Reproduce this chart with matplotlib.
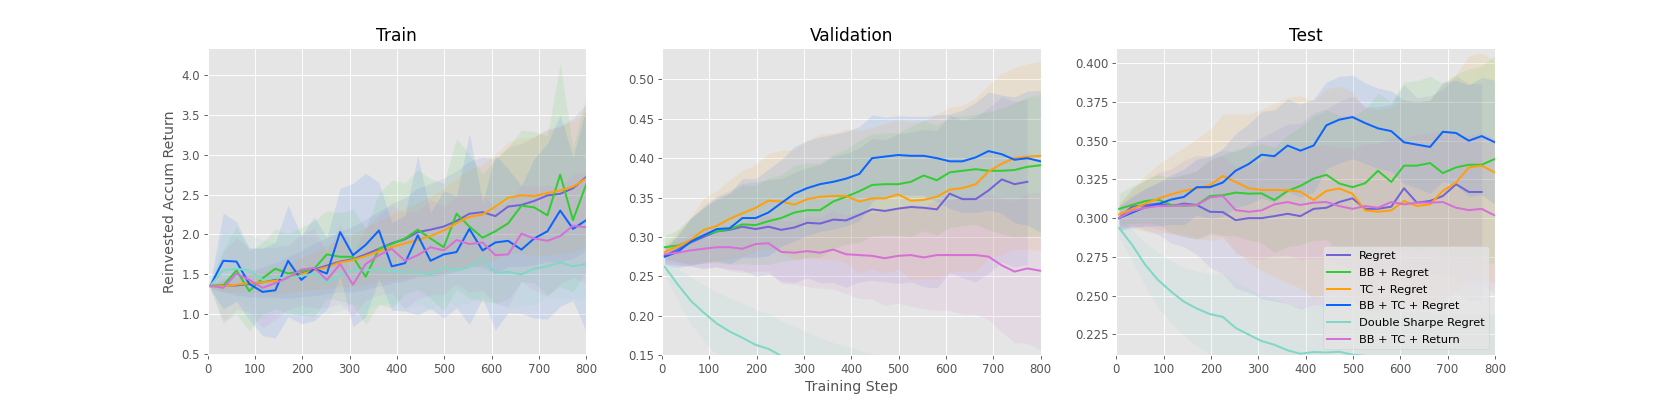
import matplotlib
matplotlib.use("Agg")
import matplotlib.pyplot as plt

plt.style.use("ggplot")
plt.rcParams["font.size"] = 10.6

steps = [6, 33, 61, 88, 116, 143, 170, 198, 225, 252, 280, 307, 334, 362, 389,
         417, 444, 471, 499, 526, 553, 581, 608, 635, 663, 690, 718, 745, 772, 800]

labels = ["Regret", "BB + Regret", "TC + Regret", "BB + TC + Regret",
          "Double Sharpe Regret", "BB + TC + Return"]
colors = ["#7264d6", "#32cd32", "#ffa00a", "#0a64ff", "#7fd8c6", "#d670d6"]

# ---- Train ----
train_regret = [1.35, 1.36, 1.36, 1.38, 1.40, 1.43, 1.46, 1.51, 1.56, 1.61, 1.66, 1.69, 1.75, 1.82, 1.89,
                1.94, 2.03, 2.06, 2.10, 2.17, 2.26, 2.28, 2.23, 2.35, 2.37, 2.42, 2.49, 2.51, 2.58, 2.72]
train_bb = [1.36, 1.36, 1.55, 1.29, 1.45, 1.57, 1.51, 1.54, 1.57, 1.75, 1.72, 1.72, 1.47, 1.82, 1.88,
            1.95, 2.06, 1.95, 1.84, 2.26, 2.10, 1.96, 2.04, 2.14, 2.36, 2.34, 2.24, 2.75, 2.18, 2.63]
train_tc = [1.35, 1.35, 1.37, 1.39, 1.40, 1.42, 1.45, 1.50, 1.55, 1.59, 1.65, 1.68, 1.73, 1.79, 1.84,
            1.89, 1.93, 1.98, 2.05, 2.14, 2.22, 2.25, 2.35, 2.46, 2.49, 2.48, 2.52, 2.55, 2.60, 2.70]
train_bbtc = [1.36, 1.67, 1.66, 1.38, 1.28, 1.30, 1.67, 1.43, 1.57, 1.51, 2.03, 1.74, 1.87, 2.05, 1.60,
              1.64, 1.99, 1.67, 1.75, 1.78, 2.07, 1.80, 1.90, 1.92, 1.81, 1.95, 2.04, 2.30, 2.07, 2.18]
train_dsr = [1.36, 1.55, 1.57, 1.55, 1.43, 1.46, 1.45, 1.48, 1.51, 1.40, 1.49, 1.55, 1.55, 1.57, 1.54,
             1.53, 1.53, 1.50, 1.59, 1.55, 1.59, 1.70, 1.52, 1.53, 1.50, 1.57, 1.60, 1.65, 1.60, 1.63]
train_ret = [1.36, 1.33, 1.51, 1.43, 1.33, 1.39, 1.46, 1.56, 1.58, 1.43, 1.63, 1.37, 1.63, 1.74, 1.82,
             1.67, 1.74, 1.84, 1.80, 1.93, 1.88, 1.90, 1.74, 1.75, 2.01, 1.95, 1.92, 1.98, 2.11, 2.09]

train_regret_sd = [0.02, 0.08, 0.12, 0.16, 0.19, 0.22, 0.26, 0.29, 0.33, 0.35, 0.38, 0.41, 0.44, 0.47, 0.50,
                   0.52, 0.55, 0.58, 0.61, 0.63, 0.66, 0.69, 0.72, 0.75, 0.77, 0.80, 0.83, 0.85, 0.88, 0.92]
train_bb_sd = [0.05, 0.45, 0.55, 0.50, 0.45, 0.50, 0.50, 0.55, 0.60, 0.55, 0.55, 0.60, 0.60, 0.70, 0.80,
               0.70, 0.75, 0.75, 0.80, 0.95, 0.90, 0.80, 0.90, 0.95, 0.95, 0.95, 1.00, 1.40, 0.90, 1.10]
train_tc_sd = [0.02, 0.06, 0.09, 0.11, 0.13, 0.16, 0.18, 0.21, 0.24, 0.27, 0.30, 0.33, 0.36, 0.38, 0.41,
               0.44, 0.47, 0.50, 0.53, 0.56, 0.60, 0.63, 0.66, 0.70, 0.72, 0.75, 0.78, 0.80, 0.82, 0.86]
train_bbtc_sd = [0.05, 0.60, 0.50, 0.45, 0.55, 0.60, 0.70, 0.55, 0.65, 0.45, 0.55, 0.90, 0.90, 0.60, 0.55,
                 0.60, 1.00, 0.60, 0.80, 0.70, 1.20, 0.60, 1.10, 0.90, 0.80, 1.00, 1.10, 1.20, 0.90, 1.40]
train_dsr_sd = [0.03, 0.50, 0.40, 0.45, 0.50, 0.45, 0.40, 0.50, 0.45, 0.40, 0.45, 0.40, 0.50, 0.45, 0.40,
                0.45, 0.40, 0.45, 0.40, 0.45, 0.45, 0.45, 0.40, 0.45, 0.40, 0.45, 0.40, 0.45, 0.40, 0.45]
train_ret_sd = [0.03, 0.45, 0.45, 0.40, 0.50, 0.45, 0.40, 0.45, 0.50, 0.35, 0.50, 0.40, 0.45, 0.50, 0.55,
                0.60, 0.55, 0.60, 0.55, 0.55, 0.60, 0.60, 0.60, 0.65, 0.60, 0.65, 0.70, 0.60, 0.65, 0.70]

# ---- Validation ----
val_regret = [0.276, 0.284, 0.293, 0.300, 0.307, 0.309, 0.313, 0.310, 0.313, 0.309, 0.312, 0.318, 0.317, 0.322, 0.321,
              0.328, 0.335, 0.333, 0.336, 0.338, 0.337, 0.335, 0.355, 0.348, 0.348, 0.359, 0.373, 0.367, 0.370]
val_bb = [0.287, 0.289, 0.295, 0.302, 0.307, 0.310, 0.316, 0.315, 0.320, 0.324, 0.331, 0.334, 0.334, 0.345, 0.351,
          0.358, 0.366, 0.367, 0.367, 0.370, 0.378, 0.372, 0.382, 0.384, 0.386, 0.384, 0.384, 0.385, 0.389, 0.391]
val_tc = [0.281, 0.288, 0.296, 0.309, 0.314, 0.323, 0.330, 0.337, 0.346, 0.345, 0.341, 0.348, 0.351, 0.352, 0.352,
          0.345, 0.349, 0.349, 0.354, 0.346, 0.347, 0.351, 0.360, 0.362, 0.367, 0.383, 0.393, 0.400, 0.402, 0.403]
val_bbtc = [0.275, 0.281, 0.294, 0.302, 0.310, 0.311, 0.324, 0.324, 0.331, 0.343, 0.355, 0.362, 0.367, 0.370, 0.374,
            0.380, 0.400, 0.402, 0.404, 0.403, 0.403, 0.400, 0.396, 0.396, 0.401, 0.409, 0.405, 0.398, 0.400, 0.396]
val_dsr = [0.262, 0.240, 0.219, 0.204, 0.190, 0.180, 0.172, 0.163, 0.158, 0.149, 0.141, 0.134, 0.127, 0.121, 0.116,
           0.111, 0.107, 0.103, 0.100, 0.097, 0.094, 0.092, 0.090, 0.088, 0.086, 0.085, 0.084, 0.083, 0.082, 0.081]
val_ret = [0.278, 0.280, 0.283, 0.285, 0.287, 0.287, 0.285, 0.291, 0.292, 0.281, 0.280, 0.282, 0.280, 0.284, 0.278,
           0.277, 0.276, 0.273, 0.276, 0.277, 0.274, 0.277, 0.277, 0.277, 0.277, 0.275, 0.264, 0.256, 0.260, 0.257]

val_regret_sd = [0.010, 0.020, 0.030, 0.040, 0.045, 0.050, 0.055, 0.060, 0.060, 0.065, 0.070, 0.070, 0.075, 0.080, 0.085,
                 0.085, 0.090, 0.090, 0.095, 0.095, 0.100, 0.100, 0.100, 0.100, 0.105, 0.105, 0.105, 0.105, 0.105]
val_bb_sd = [0.015, 0.020, 0.030, 0.035, 0.040, 0.045, 0.050, 0.050, 0.055, 0.055, 0.060, 0.060, 0.060, 0.060, 0.060,
             0.065, 0.065, 0.065, 0.065, 0.070, 0.070, 0.070, 0.070, 0.070, 0.070, 0.075, 0.080, 0.085, 0.088, 0.090]
val_tc_sd = [0.010, 0.020, 0.030, 0.040, 0.045, 0.050, 0.055, 0.055, 0.060, 0.065, 0.070, 0.075, 0.080, 0.080, 0.085,
             0.090, 0.090, 0.095, 0.095, 0.100, 0.100, 0.105, 0.105, 0.105, 0.110, 0.110, 0.115, 0.115, 0.118, 0.120]
val_bbtc_sd = [0.010, 0.020, 0.030, 0.035, 0.040, 0.045, 0.050, 0.050, 0.055, 0.055, 0.060, 0.060, 0.060, 0.060, 0.060,
               0.060, 0.055, 0.050, 0.050, 0.050, 0.050, 0.055, 0.060, 0.065, 0.070, 0.075, 0.075, 0.080, 0.085, 0.090]
val_dsr_sd = [0.010, 0.020, 0.030, 0.035, 0.040, 0.042, 0.045, 0.045, 0.045, 0.045, 0.045, 0.045, 0.045, 0.045, 0.045,
              0.045, 0.045, 0.045, 0.045, 0.045, 0.045, 0.045, 0.045, 0.045, 0.045, 0.045, 0.045, 0.045, 0.045, 0.045]
val_ret_sd = [0.010, 0.015, 0.020, 0.025, 0.025, 0.030, 0.030, 0.035, 0.035, 0.040, 0.040, 0.045, 0.045, 0.050, 0.050,
              0.055, 0.055, 0.060, 0.060, 0.065, 0.065, 0.070, 0.070, 0.075, 0.075, 0.080, 0.085, 0.090, 0.095, 0.100]

# ---- Test ----
test_regret = [0.3000, 0.3074, 0.3083, 0.3094, 0.3078, 0.3094, 0.3085, 0.3041, 0.3039, 0.2987, 0.3000, 0.3000, 0.3013, 0.3028, 0.3013,
               0.3060, 0.3067, 0.3104, 0.3128, 0.3060, 0.3060, 0.3074, 0.3193, 0.3100, 0.3111, 0.3143, 0.3219, 0.3169, 0.3169]
test_bb = [0.3060, 0.3085, 0.3110, 0.3120, 0.3085, 0.3080, 0.3085, 0.3143, 0.3148, 0.3165, 0.3158, 0.3160, 0.3117, 0.3176, 0.3208,
           0.3256, 0.3280, 0.3224, 0.3200, 0.3226, 0.3306, 0.3234, 0.3339, 0.3339, 0.3356, 0.3291, 0.3328, 0.3345, 0.3345, 0.3382]
test_tc = [0.3024, 0.3057, 0.3094, 0.3126, 0.3154, 0.3176, 0.3193, 0.3213, 0.3273, 0.3234, 0.3193, 0.3182, 0.3182, 0.3180, 0.3171,
           0.3117, 0.3176, 0.3191, 0.3158, 0.3050, 0.3041, 0.3050, 0.3111, 0.3078, 0.3089, 0.3176, 0.3230, 0.3328, 0.3339, 0.3295]
test_bbtc = [0.3000, 0.3035, 0.3070, 0.3090, 0.3120, 0.3137, 0.3200, 0.3200, 0.3230, 0.3306, 0.3350, 0.3410, 0.3400, 0.3469, 0.3436,
             0.3469, 0.3600, 0.3636, 0.3653, 0.3614, 0.3580, 0.3562, 0.3490, 0.3475, 0.3460, 0.3558, 0.3550, 0.3500, 0.3530, 0.3490]
test_dsr = [0.2937, 0.2829, 0.2699, 0.2601, 0.2525, 0.2460, 0.2416, 0.2380, 0.2362, 0.2291, 0.2247, 0.2206, 0.2182, 0.2146, 0.2124,
            0.2135, 0.2132, 0.2137, 0.2118, 0.2110, 0.2105, 0.2100, 0.2098, 0.2095, 0.2090, 0.2088, 0.2085, 0.2083, 0.2080, 0.2078]
test_ret = [0.3002, 0.3046, 0.3067, 0.3078, 0.3078, 0.3083, 0.3083, 0.3133, 0.3143, 0.3052, 0.3041, 0.3050, 0.3089, 0.3104, 0.3085,
            0.3100, 0.3104, 0.3078, 0.3060, 0.3078, 0.3067, 0.3104, 0.3089, 0.3100, 0.3100, 0.3104, 0.3067, 0.3052, 0.3060, 0.3017]

test_regret_sd = [0.008, 0.012, 0.016, 0.020, 0.024, 0.028, 0.032, 0.036, 0.040, 0.044, 0.048, 0.052, 0.055, 0.058, 0.060,
                  0.062, 0.064, 0.065, 0.066, 0.066, 0.066, 0.066, 0.067, 0.068, 0.068, 0.069, 0.070, 0.070, 0.070]
test_bb_sd = [0.010, 0.012, 0.014, 0.016, 0.018, 0.020, 0.022, 0.024, 0.026, 0.028, 0.030, 0.032, 0.034, 0.036, 0.038,
              0.040, 0.042, 0.044, 0.046, 0.048, 0.050, 0.052, 0.054, 0.055, 0.056, 0.058, 0.060, 0.062, 0.064, 0.067]
test_tc_sd = [0.008, 0.012, 0.018, 0.022, 0.025, 0.028, 0.032, 0.036, 0.040, 0.044, 0.048, 0.052, 0.056, 0.060, 0.062,
              0.064, 0.066, 0.066, 0.066, 0.066, 0.066, 0.066, 0.066, 0.067, 0.068, 0.069, 0.070, 0.072, 0.073, 0.072]
test_bbtc_sd = [0.008, 0.010, 0.012, 0.014, 0.016, 0.018, 0.018, 0.020, 0.022, 0.024, 0.026, 0.028, 0.030, 0.030, 0.030,
                0.030, 0.028, 0.028, 0.027, 0.026, 0.026, 0.026, 0.027, 0.028, 0.030, 0.032, 0.034, 0.036, 0.038, 0.040]
test_dsr_sd = [0.006, 0.010, 0.014, 0.018, 0.020, 0.022, 0.024, 0.026, 0.028, 0.030, 0.030, 0.030, 0.030, 0.030, 0.030,
               0.030, 0.030, 0.030, 0.030, 0.030, 0.030, 0.030, 0.030, 0.030, 0.030, 0.030, 0.030, 0.030, 0.030, 0.030]
test_ret_sd = [0.006, 0.010, 0.012, 0.015, 0.018, 0.020, 0.022, 0.024, 0.026, 0.028, 0.030, 0.032, 0.033, 0.034, 0.035,
               0.036, 0.037, 0.038, 0.039, 0.040, 0.041, 0.042, 0.043, 0.044, 0.045, 0.046, 0.047, 0.048, 0.049, 0.050]

panels = [
    ("Train", [train_regret, train_bb, train_tc, train_bbtc, train_dsr, train_ret],
     [train_regret_sd, train_bb_sd, train_tc_sd, train_bbtc_sd, train_dsr_sd, train_ret_sd], (0.487, 4.34)),
    ("Validation", [val_regret, val_bb, val_tc, val_bbtc, val_dsr, val_ret],
     [val_regret_sd, val_bb_sd, val_tc_sd, val_bbtc_sd, val_dsr_sd, val_ret_sd], (0.15, 0.54)),
    ("Test", [test_regret, test_bb, test_tc, test_bbtc, test_dsr, test_ret],
     [test_regret_sd, test_bb_sd, test_tc_sd, test_bbtc_sd, test_dsr_sd, test_ret_sd], (0.2115, 0.41)),
]

fig, axes = plt.subplots(1, 3, figsize=(1661 / 80, 399 / 80), dpi=80)
for ax, (title, means, sds, ylim) in zip(axes, panels):
    for lab, col, m, s in zip(labels, colors, means, sds):
        x = steps[:len(m)]
        lo = [a - b for a, b in zip(m, s)]
        hi = [a + b for a, b in zip(m, s)]
        ax.plot(x, m, color=col, label=lab, linewidth=1.8)
        ax.fill_between(x, lo, hi, color=col, alpha=0.1, linewidth=0)
    ax.set_title(title)
    ax.set_xlim(0, 800)
    ax.set_ylim(*ylim)

axes[0].set_ylabel("Reinvested Accum Return")
axes[1].set_xlabel("Training Step")
axes[2].legend(loc="lower right", fontsize=10.2, labelspacing=0.6)

plt.savefig("out.png", dpi=80)
